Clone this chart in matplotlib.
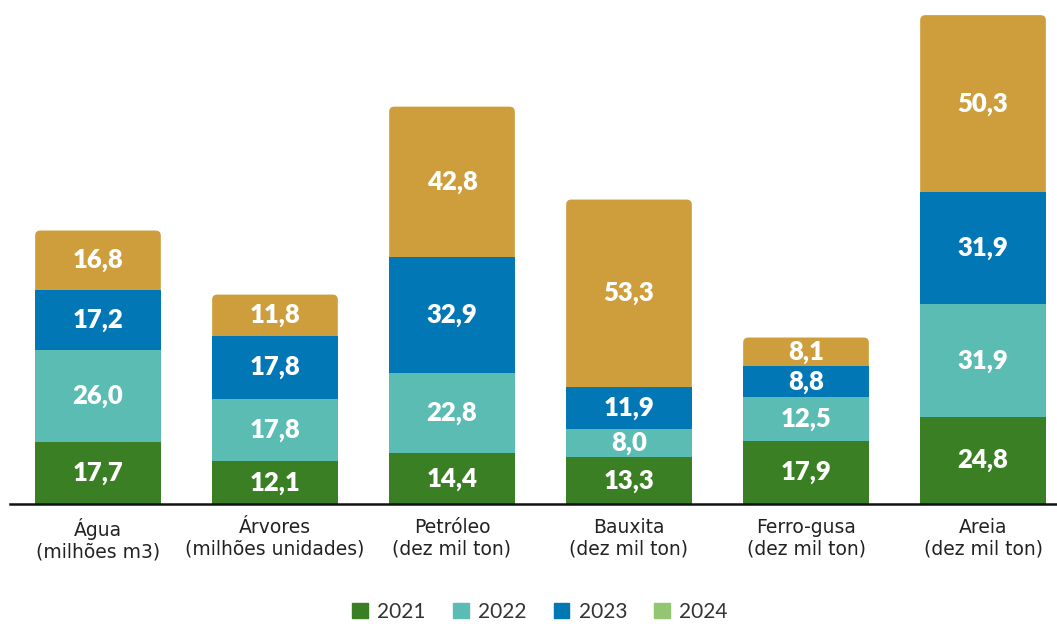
import matplotlib
matplotlib.use("Agg")
import matplotlib.pyplot as plt
from matplotlib.patches import FancyBboxPatch, Patch

categories = ["Água\n(milhões m3)", "Árvores\n(milhões unidades)", "Petróleo\n(dez mil ton)",
              "Bauxita\n(dez mil ton)", "Ferro-gusa\n(dez mil ton)", "Areia\n(dez mil ton)"]
v2021 = [17.7, 12.1, 14.4, 13.3, 17.9, 24.8]
v2022 = [26.0, 17.8, 22.8, 8.0, 12.5, 31.9]
v2023 = [17.2, 17.8, 32.9, 11.9, 8.8, 31.9]
v_top = [16.8, 11.8, 42.8, 53.3, 8.1, 50.3]
legend_labels = ["2021", "2022", "2023", "2024"]

c21 = "#3B7F24"
c22 = "#5BBCB4"
c23 = "#0277B6"
c24 = "#93C572"
ctop = "#CE9E3C"

plt.rcParams['font.family'] = ['Lato', 'DejaVu Sans']

fig = plt.figure(figsize=(10.57, 6.24), dpi=100)
ax = fig.add_axes([10 / 1057, 120 / 624, 1047 / 1057, 504 / 624])

x = list(range(len(categories)))
w = 0.71

b1 = [0] * len(x)
b2 = [a for a in v2021]
b3 = [a + b for a, b in zip(v2021, v2022)]
b4 = [a + b + c for a, b, c in zip(v2021, v2022, v2023)]

ax.bar(x, v2021, w, color=c21, zorder=3)
ax.bar(x, v2022, w, bottom=b2, color=c22, zorder=3)
ax.bar(x, v2023, w, bottom=b3, color=c23, zorder=3)

# top segment with rounded corners, lower part hidden under the blue segment
for i in x:
    p = FancyBboxPatch((i - w / 2, b4[i] - 3), w, v_top[i] + 3,
                       boxstyle="round,pad=0,rounding_size=0.03",
                       mutation_aspect=48, fc=ctop, ec="none", zorder=2)
    ax.add_patch(p)

for vals, bots in [(v2021, b1), (v2022, b2), (v2023, b3), (v_top, b4)]:
    for i in x:
        ax.text(i, bots[i] + vals[i] / 2, f"{vals[i]:.1f}".replace(".", ","),
                ha="center", va="center", color="white", fontsize=18.5,
                fontweight="heavy", zorder=5)

ax.set_xlim(-0.497, 5.418)
ax.set_ylim(0, 143.2)
ax.set_yticks([])
ax.set_xticks(x)
ax.set_xticklabels(categories, fontsize=13.5, color="#222222", linespacing=1.2,
                   family="DejaVu Sans")
ax.tick_params(axis="x", length=0, pad=10)
for s in ["top", "right", "left"]:
    ax.spines[s].set_visible(False)
ax.spines["bottom"].set_linewidth(1.8)
ax.spines["bottom"].set_color("#111111")
ax.spines["bottom"].set_zorder(4)

handles = [Patch(color=c) for c in [c21, c22, c23, c24]]
fig.legend(handles, legend_labels, loc="upper center", bbox_to_anchor=(540 / 1057, 0.036),
           ncol=4, frameon=False, fontsize=15, handlelength=0.75, handleheight=0.75,
           handletextpad=0.45, columnspacing=1.3, labelcolor="#333333",
           borderaxespad=0, borderpad=0)

fig.savefig("out.png", dpi=100)
